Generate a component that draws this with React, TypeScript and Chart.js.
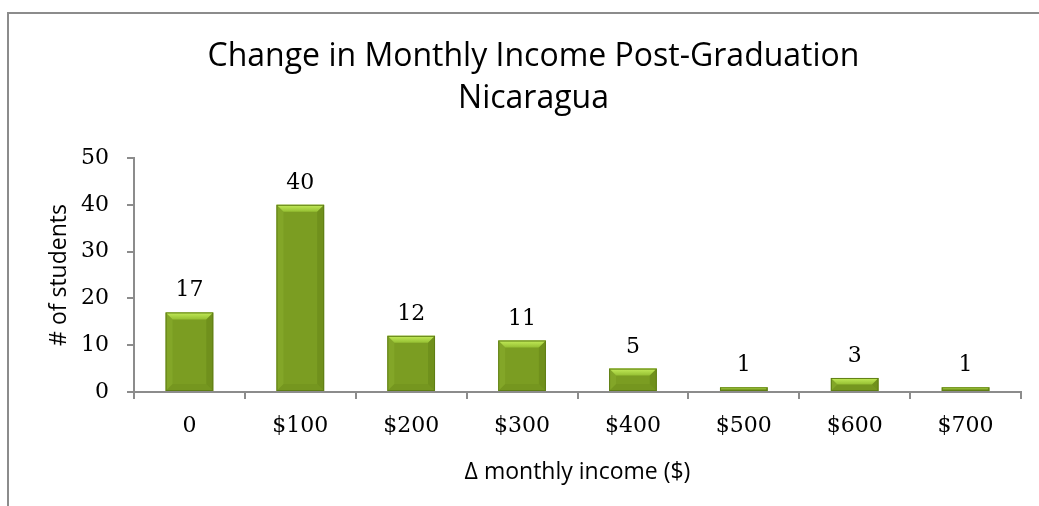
import React, { useEffect, useRef } from "react";
import { Chart, registerables } from "chart.js";

Chart.register(...registerables);

const categories = ["0", "$100", "$200", "$300", "$400", "$500", "$600", "$700"];
const students = [17, 40, 12, 11, 5, 1, 3, 1];
const yTicks = [0, 10, 20, 30, 40, 50];
const titleLines = ["Change in Monthly Income Post-Graduation", "Nicaragua"];
const xTitle = "Δ monthly income ($)";
const yTitle = "# of students";

const SERIF = "'DejaVu Serif', serif";
const SANS = "'Open Sans', sans-serif";

const framePlugin = {
  id: "frame",
  beforeDraw(chart: any) {
    const ctx = chart.ctx;
    ctx.save();
    ctx.fillStyle = "#ffffff";
    ctx.fillRect(0, 0, chart.width, chart.height);
    ctx.strokeStyle = "#8c8c8c";
    ctx.lineWidth = 2;
    ctx.beginPath();
    ctx.moveTo(8, chart.height + 5);
    ctx.lineTo(8, 13);
    ctx.lineTo(chart.width + 5, 13);
    ctx.stroke();
    ctx.restore();
  },
};

const bevelPlugin = {
  id: "bevel",
  afterDatasetsDraw(chart: any) {
    const ctx = chart.ctx;
    const meta = chart.getDatasetMeta(0);
    ctx.save();
    meta.data.forEach((bar: any, i: number) => {
      const { x, y, base, width } = bar.getProps(["x", "y", "base", "width"], true);
      const l = x - width / 2;
      const r = x + width / 2;
      const t = y;
      const b = base;
      const h = b - t;
      const bv = Math.min(7, h / 2);
      // top bevel
      const gTop = ctx.createLinearGradient(0, t, 0, t + bv);
      gTop.addColorStop(0, "#c4ec5a");
      gTop.addColorStop(1, "#95bf32");
      ctx.fillStyle = gTop;
      ctx.beginPath();
      ctx.moveTo(l, t);
      ctx.lineTo(r, t);
      ctx.lineTo(r - bv, t + bv);
      ctx.lineTo(l + bv, t + bv);
      ctx.closePath();
      ctx.fill();
      // left bevel
      ctx.fillStyle = "rgba(150,190,55,0.3)";
      ctx.beginPath();
      ctx.moveTo(l, t);
      ctx.lineTo(l + bv, t + bv);
      ctx.lineTo(l + bv, b - bv);
      ctx.lineTo(l, b);
      ctx.closePath();
      ctx.fill();
      // right bevel
      ctx.fillStyle = "rgba(85,115,15,0.3)";
      ctx.beginPath();
      ctx.moveTo(r, t);
      ctx.lineTo(r - bv, t + bv);
      ctx.lineTo(r - bv, b - bv);
      ctx.lineTo(r, b);
      ctx.closePath();
      ctx.fill();
      // bottom bevel
      ctx.fillStyle = "rgba(100,130,25,0.25)";
      ctx.beginPath();
      ctx.moveTo(l, b);
      ctx.lineTo(l + bv, b - bv);
      ctx.lineTo(r - bv, b - bv);
      ctx.lineTo(r, b);
      ctx.closePath();
      ctx.fill();
      // outline
      ctx.strokeStyle = "#5f7e14";
      ctx.lineWidth = 1;
      ctx.strokeRect(l + 0.5, t + 0.5, width - 1, h - 1);
      // value label
      ctx.fillStyle = "#000000";
      ctx.font = `22px ${SERIF}`;
      ctx.textAlign = "center";
      ctx.textBaseline = "alphabetic";
      ctx.fillText(String(students[i]), x, t - 16);
    });
    ctx.restore();
  },
};

export default function App() {
  const ref = useRef<HTMLCanvasElement | null>(null);

  useEffect(() => {
    document.body.style.margin = "0";
    const canvas = ref.current!;
    const chart = new Chart(canvas, {
      type: "bar",
      data: {
        labels: categories,
        datasets: [
          {
            data: students,
            backgroundColor: "#7b9d22",
            borderWidth: 0,
            barPercentage: 0.43,
            categoryPercentage: 1,
          },
        ],
      },
      options: {
        animation: false,
        responsive: false,
        devicePixelRatio: 1,
        layout: { padding: { left: 46, right: 18, top: 16, bottom: 20 } },
        plugins: {
          legend: { display: false },
          tooltip: { enabled: false },
          title: {
            display: true,
            text: titleLines,
            color: "#000000",
            font: { family: SANS, size: 32, weight: "normal", lineHeight: 1.3125 },
            padding: { top: 20, bottom: 38 },
          },
        },
        scales: {
          x: {
            border: { color: "#8c8c8c", width: 2 },
            grid: { display: true, drawOnChartArea: false, drawTicks: true, tickLength: 7, color: "#8c8c8c", lineWidth: 2 },
            ticks: { color: "#000000", font: { family: SERIF, size: 22 }, padding: 14 },
            title: {
              display: true,
              text: xTitle,
              color: "#000000",
              font: { family: SANS, size: 23 },
              padding: { top: 5, bottom: 0 },
            },
          },
          y: {
            min: 0,
            max: 50,
            afterBuildTicks(scale: any) {
              scale.ticks = yTicks.map((v) => ({ value: v }));
            },
            afterFit(scale: any) {
              scale.width = 88;
            },
            border: { color: "#8c8c8c", width: 2 },
            grid: { display: true, drawOnChartArea: false, drawTicks: true, tickLength: 7, color: "#8c8c8c", lineWidth: 2 },
            ticks: { color: "#000000", font: { family: SERIF, size: 22 }, padding: 18 },
            title: {
              display: true,
              text: yTitle,
              color: "#000000",
              font: { family: SANS, size: 23 },
              padding: { top: 0, bottom: 0 },
            },
          },
        },
      },
      plugins: [framePlugin, bevelPlugin],
    });
    return () => chart.destroy();
  }, []);

  return <canvas ref={ref} width={1039} height={506} style={{ display: "block" }} />;
}
